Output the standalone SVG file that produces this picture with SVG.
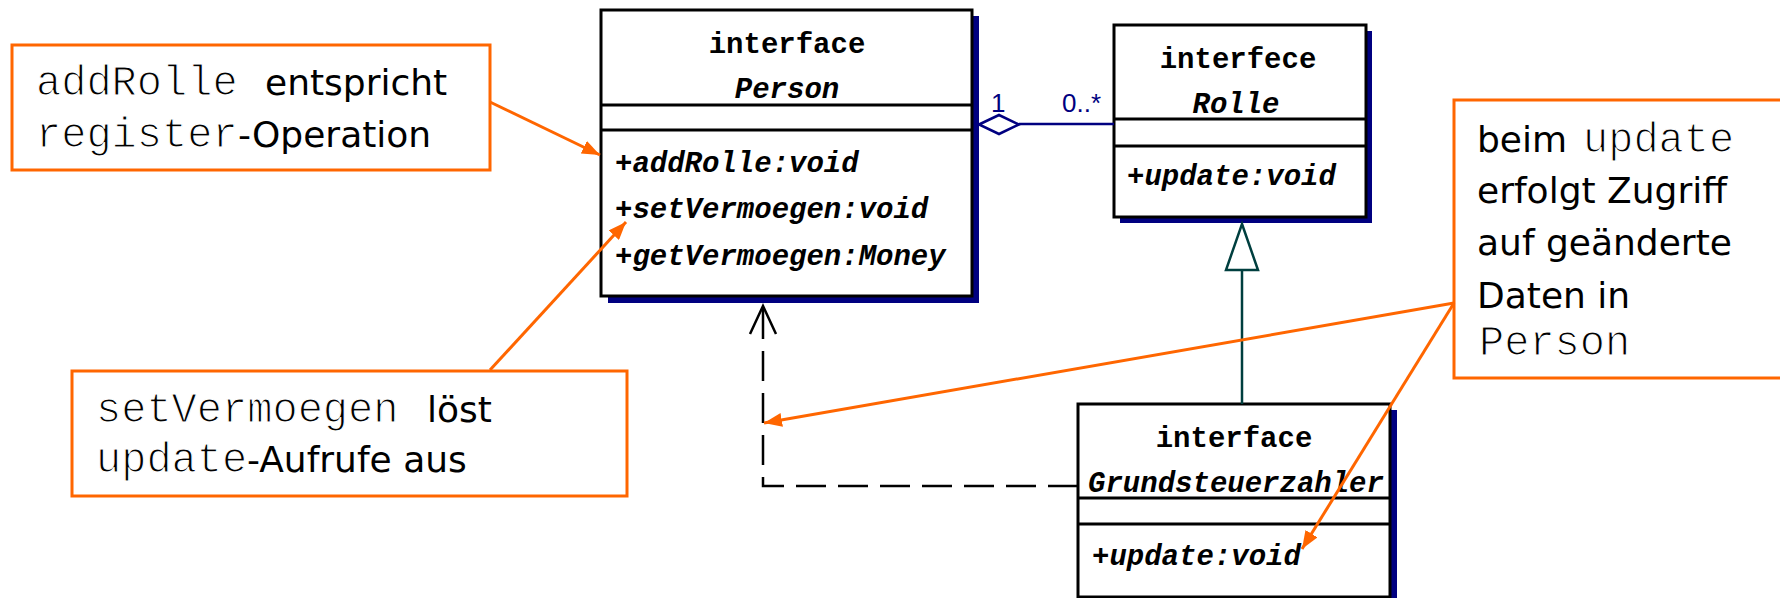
<svg xmlns="http://www.w3.org/2000/svg" width="1780" height="598" viewBox="0 0 1780 598">
  <style>
    .shadow { fill: #000080; stroke: none; }
    .box { fill: #ffffff; stroke: #000000; stroke-width: 3; }
    .div { stroke: #000000; stroke-width: 3; }
    .uml { font-family: "Liberation Mono", "DejaVu Sans Mono", monospace; font-size: 29px; font-weight: bold; fill: #000000; }
    .it { font-style: italic; }
    .note { fill: #ffffff; stroke: #ff6600; stroke-width: 3; }
    /* thin typewriter look: a white outline over the fill trims the strokes */
    .mono { font-family: "Liberation Mono", "Courier New", monospace; font-size: 42px; fill: #000000; stroke: #ffffff; stroke-width: 1.2px; }
    .sans { font-family: "DejaVu Sans", "Verdana", sans-serif; font-size: 36px; fill: #000000; }
    .callout { stroke: #ff6600; stroke-width: 3; fill: none; }
    .mult { font-family: "Liberation Sans", Arial, sans-serif; font-size: 26px; fill: #000080; }
  </style>
  <defs>
    <marker id="orangeHead" viewBox="0 0 18 14" refX="18" refY="7" markerWidth="18" markerHeight="14" markerUnits="userSpaceOnUse" orient="auto">
      <path d="M0,0 L18,7 L0,14 z" fill="#ff6600"/>
    </marker>
  </defs>

  <rect width="1780" height="598" fill="#ffffff"/>

  <!-- class Person -->
  <g id="person">
    <rect class="shadow" x="608" y="16" width="371" height="287"/>
    <rect class="box" x="601" y="10" width="371" height="286"/>
    <line class="div" x1="601" y1="105" x2="972" y2="105"/>
    <line class="div" x1="601" y1="130" x2="972" y2="130"/>
    <text class="uml" x="787" y="53" text-anchor="middle">interface</text>
    <text class="uml it" x="787" y="98" text-anchor="middle">Person</text>
    <text class="uml it" x="615" y="172">+addRolle:void</text>
    <text class="uml it" x="615" y="218">+setVermoegen:void</text>
    <text class="uml it" x="615" y="265">+getVermoegen:Money</text>
  </g>

  <!-- class Rolle -->
  <g id="rolle">
    <rect class="shadow" x="1120" y="31" width="252" height="192"/>
    <rect class="box" x="1114" y="25" width="252" height="192"/>
    <line class="div" x1="1114" y1="119" x2="1366" y2="119"/>
    <line class="div" x1="1114" y1="146" x2="1366" y2="146"/>
    <text class="uml" x="1238" y="68" text-anchor="middle">interfece</text>
    <text class="uml it" x="1236" y="113" text-anchor="middle">Rolle</text>
    <text class="uml it" x="1127" y="185">+update:void</text>
  </g>

  <!-- class Grundsteuerzahler -->
  <g id="grundsteuerzahler">
    <rect class="shadow" x="1085" y="410" width="312" height="193"/>
    <rect class="box" x="1078" y="404" width="312" height="193"/>
    <line class="div" x1="1078" y1="498" x2="1390" y2="498"/>
    <line class="div" x1="1078" y1="524" x2="1390" y2="524"/>
    <text class="uml" x="1234" y="447" text-anchor="middle">interface</text>
    <text class="uml it" x="1236" y="492" text-anchor="middle">Grundsteuerzahler</text>
    <text class="uml it" x="1092" y="565">+update:void</text>
  </g>

  <!-- note: addRolle -->
  <g id="note-addrolle">
    <rect class="note" x="12" y="45" width="478" height="125"/>
    <text y="95"><tspan class="mono" x="36">addRolle</tspan><tspan class="sans" x="265">entspricht</tspan></text>
    <text y="147"><tspan class="mono" x="36">register</tspan><tspan class="sans" x="238">-Operation</tspan></text>
  </g>

  <!-- note: setVermoegen -->
  <g id="note-setvermoegen">
    <rect class="note" x="72" y="371" width="555" height="125"/>
    <text y="422"><tspan class="mono" x="96">setVermoegen</tspan><tspan class="sans" x="427">löst</tspan></text>
    <text y="472"><tspan class="mono" x="96">update</tspan><tspan class="sans" x="247">-Aufrufe aus</tspan></text>
  </g>

  <!-- note: update -->
  <g id="note-update">
    <rect class="note" x="1454" y="100" width="340" height="278"/>
    <text y="152"><tspan class="sans" x="1477">beim</tspan><tspan class="mono" x="1583">update</tspan></text>
    <text class="sans" x="1477" y="203">erfolgt Zugriff</text>
    <text class="sans" x="1477" y="255">auf geänderte</text>
    <text class="sans" x="1477" y="308">Daten in</text>
    <text class="mono" x="1479" y="355">Person</text>
  </g>

  <!-- connectors -->
  <g id="connectors">
    <!-- aggregation Person 1 - 0..* Rolle -->
    <line x1="1019" y1="124" x2="1114" y2="124" stroke="#000080" stroke-width="2.5"/>
    <path d="M979,124.5 L999,115 L1019,124.5 L999,134 Z" fill="#ffffff" stroke="#000080" stroke-width="2.5"/>
    <text class="mult" x="991" y="112">1</text>
    <text class="mult" x="1062" y="112">0..*</text>

    <!-- generalization Grundsteuerzahler -> Rolle -->
    <line x1="1242" y1="404" x2="1242" y2="270" stroke="#003f3f" stroke-width="2.5"/>
    <path d="M1242,224 L1258,270 L1226,270 Z" fill="#ffffff" stroke="#003f3f" stroke-width="2.5"/>

    <!-- dependency Grundsteuerzahler -> Person -->
    <polyline points="1078,486 763,486 763,306" fill="none" stroke="#000000" stroke-width="2.5" stroke-dasharray="30,12"/>
    <polyline points="750,334 763,306 776,334" fill="none" stroke="#000000" stroke-width="2.5"/>

    <!-- callout arrows -->
    <line class="callout" x1="490" y1="102" x2="600" y2="155" marker-end="url(#orangeHead)"/>
    <line class="callout" x1="490" y1="370" x2="626" y2="222" marker-end="url(#orangeHead)"/>
    <line class="callout" x1="1454" y1="303" x2="764" y2="423" marker-end="url(#orangeHead)"/>
    <line class="callout" x1="1454" y1="303" x2="1302" y2="549" marker-end="url(#orangeHead)"/>
  </g>
</svg>
